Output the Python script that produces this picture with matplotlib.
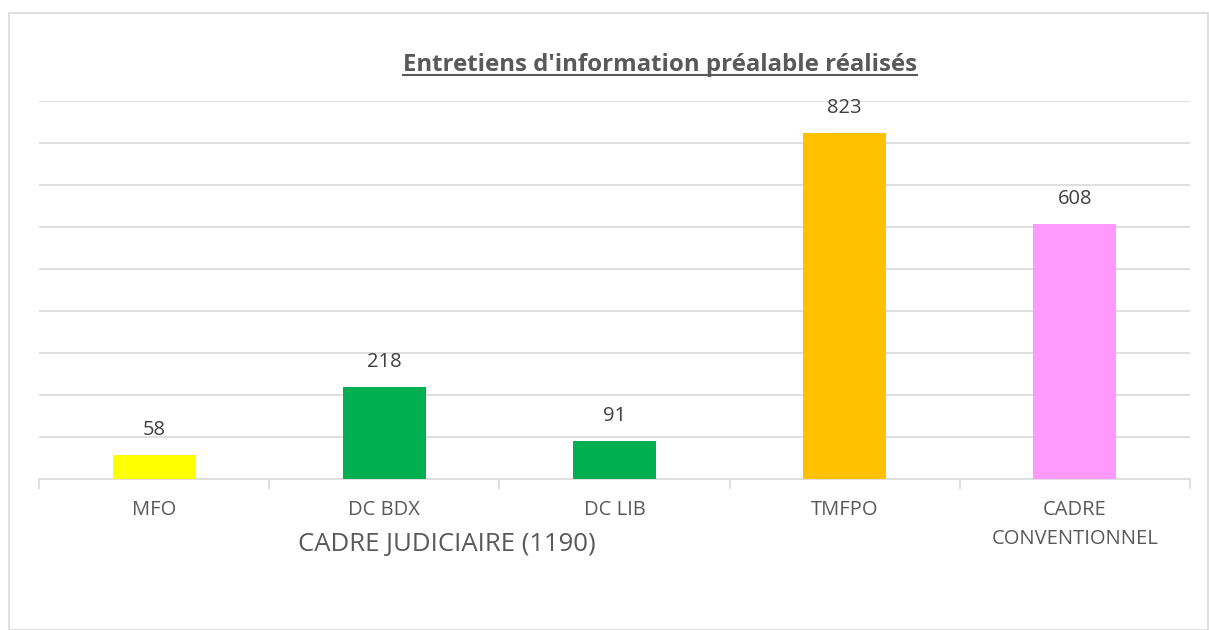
import matplotlib
matplotlib.use("Agg")
import matplotlib.pyplot as plt
from matplotlib.patches import Rectangle
from matplotlib.lines import Line2D

categories = ["MFO", "DC BDX", "DC LIB", "TMFPO", "CADRE\nCONVENTIONNEL"]
values = [58, 218, 91, 823, 608]
colors = ["#FFFF00", "#00B050", "#00B050", "#FFC000", "#FF99FF"]
group_label = "CADRE JUDICIAIRE (1190)"
title = "Entretiens d'information préalable réalisés"

plt.rcParams["font.family"] = ["Open Sans", "DejaVu Sans"]
text_color = "#595959"
grid_color = "#D9D9D9"

W, H = 1209, 630
fig = plt.figure(figsize=(W / 100, H / 100), dpi=100)

# outer chart frame
fig.patches.append(Rectangle((9 / W, 0 / H), (1208 - 9) / W, (630 - 13) / H,
                             transform=fig.transFigure, fill=False,
                             edgecolor=grid_color, linewidth=1.2))

ax_top, ax_bottom = 101, 479
ax = fig.add_axes([39 / W, (H - ax_bottom) / H, (1190 - 39) / W,
                   (ax_bottom - ax_top) / H])
x = list(range(len(categories)))
bars = ax.bar(x, values, width=0.36, color=colors, zorder=3)

ax.set_xlim(-0.5, len(categories) - 0.5)
ax.set_ylim(0, 900)
ax.set_yticks(range(100, 901, 100))
ax.yaxis.grid(True, color=grid_color, linewidth=1.2, zorder=0)
ax.tick_params(axis="y", left=False, labelleft=False)
for s in ["top", "right", "left"]:
    ax.spines[s].set_visible(False)
ax.spines["bottom"].set_color(grid_color)
ax.spines["bottom"].set_linewidth(1.2)

# category separators on the baseline
ax.set_xticks([i - 0.5 for i in range(len(categories) + 1)])
ax.set_xticklabels([])
ax.tick_params(axis="x", length=7, width=1.2, color=grid_color, direction="out")

def px_to_axes(y_px):
    return (ax_bottom - y_px) / (ax_bottom - ax_top)

xt = ax.get_xaxis_transform()
for i, c in enumerate(categories):
    for j, line in enumerate(c.split("\n")):
        ax.text(i, px_to_axes(510 + 29 * j), line, transform=xt, ha="center",
                va="center", fontsize=14.5, color=text_color, clip_on=False)

for b, v in zip(bars, values):
    ax.annotate(str(v), (b.get_x() + b.get_width() / 2, v), xytext=(0, 18),
                textcoords="offset points", ha="center", va="center",
                fontsize=14.5, color="#404040")

fig.text(447 / W, 1 - 545 / H, group_label, ha="center", va="center",
         fontsize=18.5, color=text_color)

t = fig.text(660 / W, 1 - 65 / H, title, ha="center", va="center",
             fontsize=17.3, fontweight="bold", color=text_color)
fig.canvas.draw()
bb = t.get_window_extent().transformed(fig.transFigure.inverted())
fig.lines.append(Line2D([bb.x0, bb.x1], [bb.y0 + 0.003, bb.y0 + 0.003],
                        transform=fig.transFigure, color=text_color,
                        linewidth=1.5))

fig.savefig("out.png", dpi=100)
